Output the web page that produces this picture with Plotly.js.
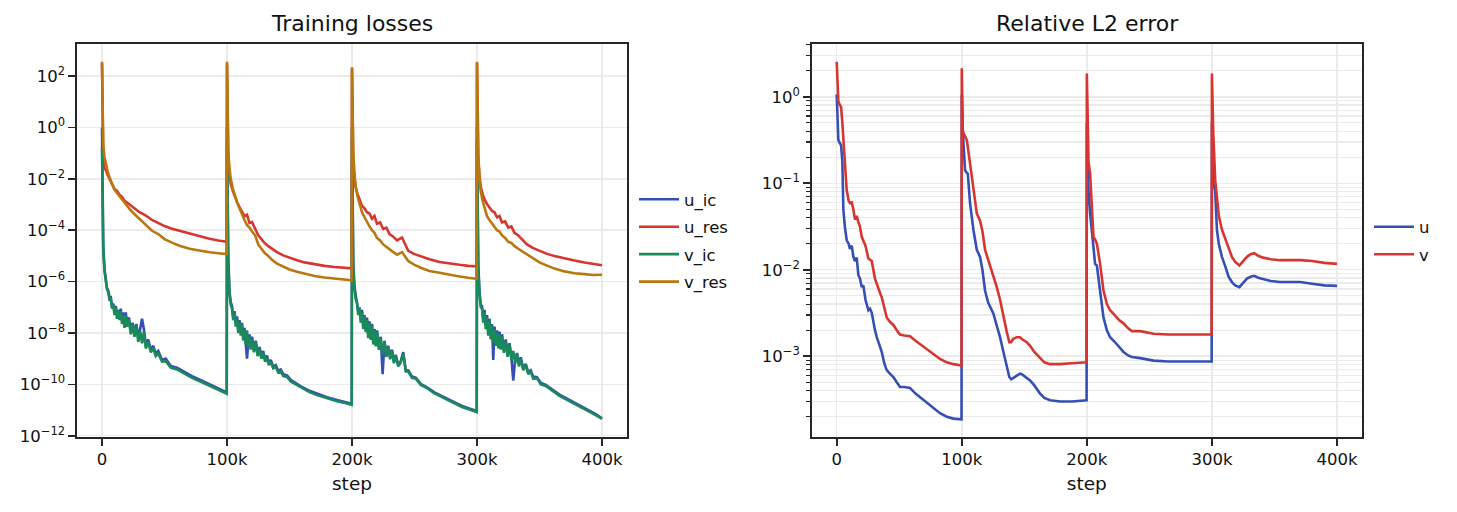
<!DOCTYPE html>
<html>
<head>
<meta charset="utf-8">
<script src="https://cdn.plot.ly/plotly-3.0.1.min.js"></script>
<style>
  html, body { margin: 0; padding: 0; background: #ffffff; }
  #chart { width: 1457px; height: 512px; }
</style>
</head>
<body>
<div id="chart"></div>
<script>
// ---------------- data: training losses (residual terms) ----------------
const resSteps = [
  0,400,1000,2000,3000,4500,6000,8000,10000,12000,14000,16000,18000,20000,22500,25000,27500,30000,33000,36000,40000,45000,50000,56000,62000,70000,78000,86000,93000,99800,
  100000,100400,101000,102000,103000,104500,106000,108000,110000,112000,114000,116000,118000,120000,122500,125000,127500,130000,133000,136000,140000,145000,150000,156000,162000,170000,178000,186000,193000,199800,
  200000,200400,201000,202000,203000,204500,206000,208000,210000,212000,214000,216000,218000,220000,222500,225000,227500,230000,233000,236000,240000,245000,250000,256000,262000,270000,278000,286000,293000,299800,
  300000,300400,301000,302000,303000,304500,306000,308000,310000,312000,314000,316000,318000,320000,322500,325000,327500,330000,333000,336000,340000,345000,350000,356000,362000,370000,378000,386000,393000,400000
];
const u_res = [
  316,2.0,0.063,0.025,0.0224,0.0141,0.010,6.3e-3,4.0e-3,3.4e-3,2.4e-3,2.0e-3,1.41e-3,1.2e-3,9.5e-4,7.6e-4,6.3e-4,5.0e-4,4.2e-4,3.5e-4,2.5e-4,1.86e-4,1.45e-4,1.15e-4,9.5e-5,7.6e-5,5.9e-5,4.7e-5,4.0e-5,3.55e-5,
  280,1.6,0.063,0.0141,6.3e-3,3.55e-3,2.2e-3,1.26e-3,7.9e-4,5e-4,3.55e-4,4e-4,1.9e-4,2.1e-4,1.12e-4,6.3e-5,4.5e-5,3.2e-5,2.4e-5,1.9e-5,1.41e-5,1.05e-5,8.5e-6,6.8e-6,5.6e-6,4.7e-6,4.1e-6,3.7e-6,3.5e-6,3.3e-6,
  200,1.0,0.05,0.01,4.5e-3,2.5e-3,1.58e-3,8.9e-4,7.1e-4,5e-4,4.5e-4,2.8e-4,3.55e-4,1.78e-4,2e-4,1.12e-4,1.26e-4,7.1e-5,5.6e-5,4e-5,5.2e-5,1.58e-5,1.17e-5,9.1e-6,7.4e-6,5.8e-6,5e-6,4.5e-6,4.1e-6,3.9e-6,
  316,1.6,0.063,0.0126,5e-3,2.5e-3,1.58e-3,1.05e-3,7.9e-4,5.6e-4,5e-4,3.2e-4,3.55e-4,2e-4,2.2e-4,1.26e-4,1.41e-4,7.9e-5,6.3e-5,4.5e-5,2.8e-5,2e-5,1.58e-5,1.2e-5,1e-5,7.9e-6,6.6e-6,5.5e-6,4.8e-6,4.3e-6
];
const v_res = [
  363,3.2,0.2,0.071,0.04,0.02,0.0112,6.3e-3,3.8e-3,2.8e-3,2.1e-3,1.5e-3,1.12e-3,8.9e-4,6.3e-4,4.7e-4,3.55e-4,2.7e-4,2.0e-4,1.41e-4,9.5e-5,7.1e-5,4.5e-5,3.3e-5,2.5e-5,1.9e-5,1.58e-5,1.38e-5,1.26e-5,1.17e-5,
  363,4.0,0.126,0.025,0.01,4.5e-3,2.5e-3,1.26e-3,7.1e-4,4e-4,2.5e-4,1.58e-4,1.26e-4,8.9e-5,6.3e-5,2.8e-5,1.9e-5,1.32e-5,1e-5,7.1e-6,5e-6,3.7e-6,2.95e-6,2.4e-6,2e-6,1.66e-6,1.45e-6,1.29e-6,1.2e-6,1.12e-6,
  220,2.5,0.1,0.0158,5e-3,2e-3,1e-3,5e-4,3.2e-4,2e-4,1.41e-4,1e-4,7.9e-5,5e-5,4e-5,2.8e-5,2.2e-5,1.78e-5,1.41e-5,1.12e-5,1.41e-5,6.3e-6,4.5e-6,3.3e-6,2.6e-6,2.2e-6,1.82e-6,1.58e-6,1.41e-6,1.29e-6,
  363,3.2,0.1,0.01,3.2e-3,1.41e-3,7.9e-4,3.55e-4,2.5e-4,1.78e-4,1.41e-4,1e-4,8.9e-5,6.3e-5,5e-5,3.55e-5,3.2e-5,2.4e-5,1.9e-5,1.51e-5,1.12e-5,7.9e-6,5.6e-6,4.2e-6,3.2e-6,2.5e-6,2.1e-6,1.95e-6,1.8e-6,1.86e-6
];

// ---------------- data: training losses (initial-condition terms) ----------------
const icSteps = [
  0,400,1000,2000,3000,4000,5000,6000,7000,8000,9000,10000,11000,12000,13000,14000,15000,16000,17000,18000,19000,20000,21500,23000,24500,26000,27500,29000,30500,32000,33500,35000,37000,39000,41000,43000,45000,48000,51000,55000,60000,66000,72000,80000,88000,95000,99800,
  100000,100400,101000,102000,103000,104000,105000,106000,107000,108000,109000,110000,111000,112000,113000,114000,115000,116000,117000,118000,119000,120000,121500,123000,124500,126000,127500,129000,130500,132000,133500,135000,137000,139000,141000,143000,145000,148000,151000,155000,160000,166000,172000,180000,188000,195000,199800,
  200000,200400,201000,202000,203000,204000,205000,206000,207000,208000,209000,210000,211000,212000,213000,214000,215000,216000,217000,218000,219000,220000,221500,223000,224500,226000,227500,229000,230500,232000,233500,235000,237000,239000,241000,243000,245000,248000,251000,255000,260000,266000,272000,280000,288000,295000,299800,
  300000,300400,301000,302000,303000,304000,305000,306000,307000,308000,309000,310000,311000,312000,313000,314000,315000,316000,317000,318000,319000,320000,321500,323000,324500,326000,327500,329000,330500,332000,333500,335000,337000,339000,341000,343000,345000,348000,351000,355000,360000,366000,372000,380000,388000,395000,400000
];
const u_ic = [
  1.0,3.2e-3,2.5e-5,3.2e-6,1.12e-6,5.6e-7,4.47e-7,2.5e-7,2.5e-7,1.12e-7,1.41e-7,7.1e-8,1.12e-7,5e-8,7.9e-8,4e-8,8.9e-8,3.16e-8,6.3e-8,2.24e-8,6.3e-8,2.5e-8,4e-8,1.26e-8,2.5e-8,1e-8,2.24e-8,6.3e-9,1.41e-8,3.55e-8,1.41e-8,3.55e-9,5.6e-9,2.24e-9,3.16e-9,1.58e-9,2e-9,8.9e-10,1e-9,5.2e-10,4.4e-10,3e-10,2.1e-10,1.38e-10,9.1e-11,6.3e-11,4.8e-11,
  1.0,1e-3,1e-5,4e-7,1.58e-7,1.12e-7,4e-8,7.1e-8,2.5e-8,4.47e-8,1.41e-8,3.16e-8,1.12e-8,2.5e-8,7.1e-9,1.58e-8,5e-9,1e-9,4e-9,8.9e-9,3.16e-9,7.1e-9,2.5e-9,5e-9,1.58e-9,2.82e-9,1.26e-9,2e-9,8.9e-10,1.32e-9,6.6e-10,8.9e-10,5e-10,5.6e-10,3.4e-10,3.8e-10,2.5e-10,2.24e-10,1.51e-10,1.12e-10,7.9e-11,5.6e-11,4.3e-11,3.16e-11,2.45e-11,2e-11,1.74e-11,
  1.0,1e-3,5e-6,6.3e-7,2.5e-7,1.41e-7,7.1e-8,1e-7,3.55e-8,7.9e-8,2e-8,5e-8,1.41e-8,4e-8,8.9e-9,2.82e-8,7.1e-9,2.24e-8,5e-9,1.41e-8,4e-9,1.26e-8,2.82e-9,7.1e-9,2.5e-10,5e-9,1.41e-9,3.16e-9,1.12e-9,2.24e-9,7.9e-10,1.41e-9,5.6e-10,7.9e-10,1.78e-9,3.55e-10,3.55e-10,2e-10,1.82e-10,1.05e-10,7.6e-11,4.9e-11,3.47e-11,2.19e-11,1.45e-11,1.1e-11,9.1e-12,
  1.0,1e-3,5e-6,4e-7,1.26e-7,1.12e-7,3.55e-8,7.9e-8,2e-8,5e-8,1.12e-8,3.55e-8,7.9e-9,2.24e-8,8.9e-10,1.78e-8,4.47e-9,1.26e-8,3.55e-9,1.12e-8,3.16e-9,8.9e-9,2.24e-9,5.6e-9,1.58e-9,4e-9,1.12e-9,1.41e-10,8.9e-10,1.66e-9,6.3e-10,1.12e-9,4.2e-10,6.3e-10,3e-10,3.55e-10,2e-10,1.9e-10,1.15e-10,9.5e-11,6.3e-11,4e-11,2.75e-11,1.74e-11,1.1e-11,6.9e-12,4.8e-12
];
const v_ic = [
  0.17,1e-3,1.6e-5,2.5e-6,1e-6,5e-7,4e-7,1.78e-7,2.24e-7,8.9e-8,1.26e-7,5e-8,1e-7,3.55e-8,7.1e-8,3.16e-8,7.1e-8,2.24e-8,5e-8,1.58e-8,5e-8,1.78e-8,3.3e-8,8.9e-9,2.14e-8,7.1e-9,1.9e-8,4.47e-9,1.2e-8,4e-9,1.12e-8,2.5e-9,4.47e-9,1.78e-9,2.5e-9,1.26e-9,1.58e-9,7.6e-10,7.9e-10,4.47e-10,3.8e-10,2.5e-10,1.78e-10,1.2e-10,7.9e-11,5.6e-11,4.3e-11,
  0.32,3.16e-4,5e-6,3.16e-7,1.26e-7,8.9e-8,3.16e-8,5.6e-8,1.78e-8,3.55e-8,1e-8,2.5e-8,7.9e-9,2e-8,5e-9,1.26e-8,3.55e-9,1.26e-8,2.82e-9,7.1e-9,2.24e-9,5.6e-9,1.78e-9,4.3e-9,1.26e-9,2.34e-9,1e-9,1.7e-9,7.6e-10,1.1e-9,5.6e-10,7.6e-10,4.2e-10,4.8e-10,2.9e-10,3.2e-10,2.1e-10,1.95e-10,1.29e-10,1e-10,7.1e-11,5e-11,3.8e-11,2.82e-11,2.19e-11,1.82e-11,1.58e-11,
  0.32,3.16e-4,3.16e-6,5e-7,2e-7,1.58e-7,5e-8,8.9e-8,2.5e-8,6.3e-8,1.41e-8,4.47e-8,1.07e-8,3.16e-8,6.3e-9,2.24e-8,5.4e-9,1.86e-8,3.55e-9,1.23e-8,3e-9,1.05e-8,2.19e-9,6.3e-9,1.48e-9,4.47e-9,1.17e-9,2.82e-9,9.5e-10,2e-9,6.6e-10,1.26e-9,5e-10,7.1e-10,1.58e-9,3.16e-10,3.16e-10,1.78e-10,1.66e-10,9.5e-11,7.1e-11,4.47e-11,3.16e-11,2e-11,1.32e-11,1e-11,8.3e-12,
  0.32,3.16e-4,3.16e-6,3.16e-7,1e-7,8.9e-8,2.5e-8,6.3e-8,1.41e-8,4e-8,7.9e-9,2.95e-8,5.6e-9,1.9e-8,4.2e-9,1.41e-8,3.16e-9,1e-8,2.5e-9,8.9e-9,2.24e-9,7.1e-9,1.7e-9,4.47e-9,1.17e-9,3.47e-9,9.1e-10,2e-9,6.8e-10,1.41e-9,5e-10,9.5e-10,3.55e-10,5.6e-10,2.5e-10,3.16e-10,1.66e-10,1.74e-10,1e-10,8.7e-11,5.6e-11,3.55e-11,2.5e-11,1.58e-11,1e-11,6.3e-12,4.47e-12
];

// ---------------- data: relative L2 error ----------------
const l2Steps = [
  0,700,1300,2000,2600,3500,4500,5300,6500,8000,9500,10600,12000,13300,14600,16000,17300,18600,20000,21300,23000,25300,26600,28000,30600,32000,34600,36000,38000,40000,42500,45300,48000,50600,54000,58600,63000,69300,76000,82600,88000,93300,99800,
  100000,100800,101300,102600,104000,104800,106600,109300,112000,114600,116500,118600,121000,124000,125300,128000,130600,133300,136000,138000,139500,141000,144000,146600,148000,152000,154600,158000,162600,166000,170600,178600,188000,199800,
  200000,200600,201300,202600,204000,205300,206600,208000,210600,213300,216000,218600,222600,226000,229300,233000,236000,242600,253300,265000,277300,288000,299800,
  300000,300300,301000,302600,304000,305500,308000,310600,313300,316000,318600,322000,325000,328000,331000,333800,337000,341000,347000,354600,362000,370600,380000,390000,400000
];
const l2_u = [
  1.07,0.355,0.316,0.30,0.29,0.275,0.178,0.05,0.0316,0.0219,0.02,0.0174,0.019,0.0141,0.0126,0.0138,8.7e-3,7.9e-3,6.3e-3,6.6e-3,4.5e-3,3.4e-3,3.55e-3,3.2e-3,2.0e-3,1.66e-3,1.29e-3,1.12e-3,8.3e-4,6.9e-4,6.3e-4,5.75e-4,5.0e-4,4.4e-4,4.4e-4,4.3e-4,3.7e-4,3.1e-4,2.57e-4,2.19e-4,2.0e-4,1.9e-4,1.86e-4,
  1.05,0.4,0.26,0.141,0.132,0.129,0.059,0.029,0.017,0.0141,0.01,5.75e-3,4.2e-3,3.3e-3,3.1e-3,2.24e-3,1.66e-3,1.12e-3,7.4e-4,5.75e-4,5.4e-4,5.6e-4,6.0e-4,6.3e-4,6.2e-4,5.6e-4,5.25e-4,4.6e-4,3.7e-4,3.3e-4,3.1e-4,3.0e-4,3.0e-4,3.1e-4,
  0.5,0.2,0.083,0.045,0.029,0.0178,0.0117,0.0112,5.75e-3,2.8e-3,2.0e-3,1.66e-3,1.45e-3,1.26e-3,1.12e-3,1.02e-3,9.8e-4,9.5e-4,8.9e-4,8.7e-4,8.7e-4,8.7e-4,8.7e-4,
  0.5,0.158,0.1,0.083,0.029,0.02,0.0141,0.011,8.3e-3,7.2e-3,6.6e-3,6.3e-3,7.1e-3,7.9e-3,8.3e-3,8.5e-3,8.1e-3,7.8e-3,7.4e-3,7.2e-3,7.2e-3,7.2e-3,6.9e-3,6.6e-3,6.5e-3
];
const l2_v = [
  2.54,1.26,0.89,0.83,0.81,0.76,0.5,0.316,0.158,0.083,0.063,0.059,0.06,0.05,0.038,0.042,0.0355,0.0316,0.024,0.0219,0.019,0.0135,0.0132,0.0126,7.9e-3,6.8e-3,5.4e-3,4.8e-3,3.55e-3,2.8e-3,2.5e-3,2.3e-3,2.0e-3,1.78e-3,1.74e-3,1.7e-3,1.51e-3,1.29e-3,1.1e-3,9.3e-4,8.5e-4,8.1e-4,7.8e-4,
  2.14,0.41,0.38,0.35,0.316,0.263,0.17,0.083,0.0447,0.037,0.028,0.017,0.0132,0.01,8.9e-3,6.3e-3,4.5e-3,2.8e-3,1.9e-3,1.45e-3,1.45e-3,1.58e-3,1.66e-3,1.66e-3,1.58e-3,1.45e-3,1.32e-3,1.12e-3,9.5e-4,8.5e-4,8.1e-4,8.1e-4,8.3e-4,8.5e-4,
  1.86,0.4,0.178,0.129,0.05,0.024,0.0224,0.02,0.0117,5.75e-3,4.0e-3,3.4e-3,2.95e-3,2.6e-3,2.4e-3,2.1e-3,1.95e-3,1.95e-3,1.82e-3,1.78e-3,1.78e-3,1.78e-3,1.78e-3,
  1.86,0.63,0.41,0.11,0.063,0.042,0.029,0.0229,0.017,0.0141,0.0123,0.0112,0.0126,0.0141,0.0151,0.0155,0.0145,0.0138,0.0132,0.0129,0.0129,0.0129,0.0126,0.012,0.0117
];

// ---------------- tick labels ----------------
const stepTickVals = [0, 100000, 200000, 300000, 400000];
const stepTickText = ['0', '100k', '200k', '300k', '400k'];
const lossTickVals = [1e2, 1e0, 1e-2, 1e-4, 1e-6, 1e-8, 1e-10, 1e-12];
const lossTickText = ['10<sup>2</sup>', '10<sup>0</sup>', '10<sup>−2</sup>', '10<sup>−4</sup>', '10<sup>−6</sup>', '10<sup>−8</sup>', '10<sup>−10</sup>', '10<sup>−12</sup>'];
const l2TickVals = [1e0, 1e-1, 1e-2, 1e-3];
const l2TickText = ['10<sup>0</sup>', '10<sup>−1</sup>', '10<sup>−2</sup>', '10<sup>−3</sup>'];

// ---------------- style ----------------
const FONT = 'DejaVu Sans, sans-serif';
const INK = '#262626';
const GRID = '#ebebeb';
const C_BLUE = '#3550b5', C_RED = '#d7352f', C_GREEN = '#1b8a5a', C_ORANGE = '#b8770f';
const LW = 2.6;

// minor tick positions for the right log axis (2..9 per decade)
const minorVals = [];
for (let e = -4; e <= 0; e++) {
  for (let m = 2; m <= 9; m++) minorVals.push(m * Math.pow(10, e));
}

function lossTrace(name, x, y, color) {
  return { x: x, y: y, name: name, type: 'scatter', mode: 'lines',
           line: { color: color, width: LW }, xaxis: 'x', yaxis: 'y',
           legend: 'legend', legendgroup: name };
}
function l2Trace(name, y, color) {
  return { x: l2Steps, y: y, name: name, type: 'scatter', mode: 'lines',
           line: { color: color, width: LW }, xaxis: 'x2', yaxis: 'y2',
           legend: 'legend2', legendgroup: 'l2' + name };
}

const traces = [
  lossTrace('u_ic', icSteps, u_ic, C_BLUE),
  lossTrace('u_res', resSteps, u_res, C_RED),
  lossTrace('v_ic', icSteps, v_ic, C_GREEN),
  lossTrace('v_res', resSteps, v_res, C_ORANGE),
  l2Trace('u', l2_u, C_BLUE),
  l2Trace('v', l2_v, C_RED)
];

const ML = 77, MR = 95, MT = 44, MB = 75, W = 1457, H = 512;
const PW = W - ML - MR;
const px2paper = p => (p - ML) / PW;

const xCommon = {
  type: 'linear', range: [-20000, 420000],
  tickmode: 'array', tickvals: stepTickVals, ticktext: stepTickText,
  ticks: 'outside', ticklen: 7, tickwidth: 1.6, tickcolor: INK,
  showline: true, mirror: true, linecolor: INK, linewidth: 1.6,
  showgrid: true, gridcolor: GRID, gridwidth: 1.5, zeroline: false,
  tickfont: { family: FONT, size: 16.5, color: '#111' },
  title: { text: 'step', font: { family: FONT, size: 18.5, color: '#111' }, standoff: 8 },
  automargin: false, fixedrange: true
};

const layout = {
  width: W, height: H,
  margin: { l: ML, r: MR, t: MT, b: MB, pad: 0 },
  paper_bgcolor: '#ffffff', plot_bgcolor: '#ffffff',
  font: { family: FONT, color: '#111' },
  showlegend: true,
  xaxis: Object.assign({}, xCommon, { domain: [0, px2paper(627)], anchor: 'y' }),
  xaxis2: Object.assign({}, xCommon, { domain: [px2paper(811.7), 1], anchor: 'y2' }),
  yaxis: {
    type: 'log', range: [-12.05, 3.25], domain: [0, 1], anchor: 'x',
    tickmode: 'array', tickvals: lossTickVals, ticktext: lossTickText,
    ticks: 'outside', ticklen: 7, tickwidth: 1.6, tickcolor: INK,
    showline: true, mirror: true, linecolor: INK, linewidth: 1.6,
    showgrid: true, gridcolor: GRID, gridwidth: 1.5, zeroline: false,
    tickfont: { family: FONT, size: 16.5, color: '#111' },
    automargin: false, fixedrange: true
  },
  yaxis2: {
    type: 'log', range: [-3.934, 0.61], domain: [0, 1], anchor: 'x2',
    tickmode: 'array', tickvals: l2TickVals, ticktext: l2TickText,
    ticks: 'outside', ticklen: 7, tickwidth: 1.6, tickcolor: INK,
    showline: true, mirror: true, linecolor: INK, linewidth: 1.6,
    showgrid: true, gridcolor: GRID, gridwidth: 1.5, zeroline: false,
    minor: { tickmode: 'array', tickvals: minorVals, ticks: 'outside', ticklen: 4,
             tickwidth: 1.2, tickcolor: INK, showgrid: true, gridcolor: GRID, gridwidth: 1.3 },
    tickfont: { family: FONT, size: 16.5, color: '#111' },
    automargin: false, fixedrange: true
  },
  legend: {
    x: px2paper(634), xanchor: 'left', y: 0.5, yanchor: 'middle',
    bgcolor: 'rgba(0,0,0,0)', borderwidth: 0, tracegroupgap: 3,
    font: { family: FONT, size: 16.5, color: '#111' }, itemwidth: 40
  },
  legend2: {
    x: px2paper(1369), xanchor: 'left', y: 0.5, yanchor: 'middle',
    bgcolor: 'rgba(0,0,0,0)', borderwidth: 0, tracegroupgap: 3,
    font: { family: FONT, size: 16.5, color: '#111' }, itemwidth: 40
  },
  annotations: [
    { text: 'Training losses', xref: 'paper', yref: 'paper', x: px2paper(352), y: 1,
      xanchor: 'center', yanchor: 'bottom', yshift: 6, showarrow: false,
      font: { family: FONT, size: 22, color: '#111' } },
    { text: 'Relative L2 error', xref: 'paper', yref: 'paper', x: px2paper(1087), y: 1,
      xanchor: 'center', yanchor: 'bottom', yshift: 6, showarrow: false,
      font: { family: FONT, size: 22, color: '#111' } }
  ]
};

Plotly.newPlot('chart', traces, layout, { staticPlot: true, displayModeBar: false });
</script>
</body>
</html>
